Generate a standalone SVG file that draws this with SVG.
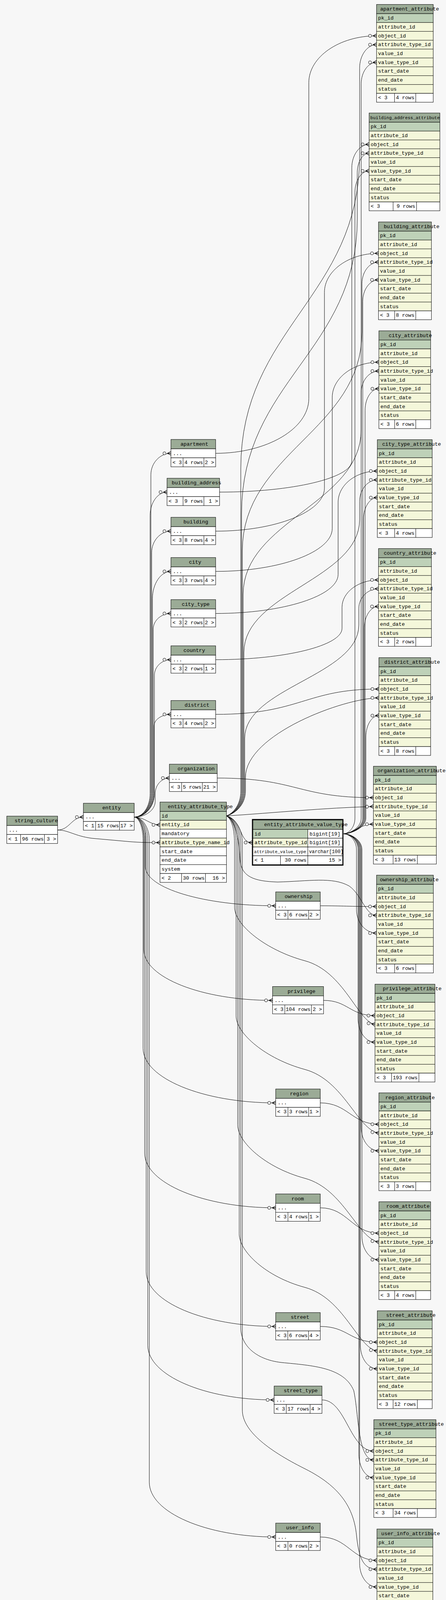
<svg xmlns="http://www.w3.org/2000/svg" width="1141" height="4217" viewBox="0 0 1141 4217">
<style>
text{font-family:"Liberation Mono","DejaVu Sans Mono",monospace;font-size:13.2px;fill:#000}
.ra{text-anchor:end}
.hd{fill:#9bab96;stroke:#000;stroke-width:1}
.pk{fill:#bed1b8;stroke:#000;stroke-width:1}
.ix{fill:#f4f7da;stroke:#000;stroke-width:1}
.wh{fill:#fff;stroke:#000;stroke-width:1}
.sep{fill:none;stroke:#000;stroke-width:1}
#connectors path{fill:none;stroke:#000;stroke-width:1;marker-end:url(#crow)}
</style>
<defs>
<marker id="crow" viewBox="0 0 22 12" markerWidth="22" markerHeight="12" refX="21" refY="6" orient="auto" markerUnits="userSpaceOnUse" overflow="visible">
<circle cx="4.4" cy="6" r="3.9" fill="#f7f7f7" stroke="#000" stroke-width="1"/>
<path d="M21,1.2 L12,6 L21,10.8 M12,6 H21" fill="none" stroke="#000" stroke-width="1.3"/>
</marker>
</defs>
<rect width="1141" height="4217" fill="#f7f7f7"/>
<g id="connectors">
<path d="M343.3,2091.7 C366.8,2091.7 386,2064.7 386,2031.7 L386,1215.5 C386,1185.3 409.1,1160.5 437.3,1160.5"/>
<path d="M343.3,2091.7 C365.7,2091.7 384,2064.7 384,2031.7 L384,1319.8 C384,1286.8 403.5,1259.8 427.3,1259.8"/>
<path d="M343.3,2091.7 C367.9,2091.7 388,2064.7 388,2031.7 L388,1414.8 C388,1384.6 410.2,1359.8 437.3,1359.8"/>
<path d="M343.3,2091.7 C369,2091.7 390,2064.7 390,2031.7 L390,1532.8 C390,1494.3 411.3,1462.8 437.3,1462.8"/>
<path d="M343.3,2091.7 C370.1,2091.7 392,2064.7 392,2031.7 L392,1610.5 C392,1588.5 412.4,1570.5 437.3,1570.5"/>
<path d="M343.3,2091.7 C371.7,2091.7 395,2064.7 395,2031.7 L395,1728.8 C395,1706.8 414,1688.8 437.3,1688.8"/>
<path d="M343.3,2091.7 C371.2,2091.7 394,2064.7 394,2031.7 L394,1858.8 C394,1842.3 413.5,1828.8 437.3,1828.8"/>
<path d="M343.3,2091.7 C372.8,2091.7 397,2073.7 397,2051.7 L397,2031.8 C397,2009.8 413.3,1991.8 433.3,1991.8"/>
<path d="M343.3,2091.7 C359.1,2091.7 372,2114.2 372,2141.7 L372,2218.8 C372,2273.8 522,2318.8 705.3,2318.8"/>
<path d="M343.3,2091.7 C356.9,2091.7 368,2116.5 368,2146.7 L368,2431 C368,2502.5 516.2,2561 697.3,2561"/>
<path d="M343.3,2091.7 C355.8,2091.7 366,2118.7 366,2151.7 L366,2683.4 C366,2760.4 518.7,2823.4 705.3,2823.4"/>
<path d="M343.3,2091.7 C358,2091.7 370,2118.7 370,2151.7 L370,2952 C370,3029 520.9,3092 705.3,3092"/>
<path d="M343.3,2091.7 C360.2,2091.7 374,2118.7 374,2151.7 L374,3255.7 C374,3332.7 523.1,3395.7 705.3,3395.7"/>
<path d="M343.3,2091.7 C362.4,2091.7 378,2118.7 378,2151.7 L378,3443.8 C378,3520.8 523.5,3583.8 701.3,3583.8"/>
<path d="M343.3,2091.7 C364.6,2091.7 382,2118.7 382,2151.7 L382,3794.7 C382,3871.7 527.5,3934.7 705.3,3934.7"/>
<path d="M343.3,2091.7 C372,2091.7 382,2111.7 409.3,2111.7"/>
<path d="M147.3,2124.8 C178,2124.8 183,2091.7 213.3,2091.7"/>
<path d="M147.3,2124.8 C175,2124.8 190,2140 235,2146 L330,2154.5 C360,2157 380,2157 409.3,2157"/>
<path d="M551.7,1160.5 C682.8,1160.5 790,1097.5 790,1020.5 L790,211.7 C790,145.7 868,91.7 963.3,91.7"/>
<path d="M561.7,1259.8 C747.8,1259.8 900,1223.8 900,1179.8 L900,429.6 C900,396.6 919.9,369.6 944.3,369.6"/>
<path d="M551.7,1359.8 C704.8,1359.8 830,1310.3 830,1249.8 L830,748.5 C830,693.5 892.2,648.5 968.3,648.5"/>
<path d="M551.7,1462.8 C715.8,1462.8 850,1413.3 850,1352.8 L850,1017.2 C850,967.7 903.7,927.2 969.3,927.2"/>
<path d="M551.7,1570.5 C724,1570.5 865,1525.5 865,1470.5 L865,1285.9 C865,1241.9 910.1,1205.9 965.3,1205.9"/>
<path d="M551.7,1688.8 C729.5,1688.8 875,1652.8 875,1608.8 L875,1554.6 C875,1516.1 917,1484.6 968.3,1484.6"/>
<path d="M551.7,1828.8 C770,1828.8 780,1763.9 969.3,1763.9"/>
<path d="M555.7,1991.8 C760,1991.8 760,2042 955.3,2042"/>
<path d="M819.3,2318.8 C880,2318.8 890,2320.7 963.3,2320.7"/>
<path d="M827.7,2561 C890,2561 895,2599.9 959.3,2599.9"/>
<path d="M819.3,2823.4 C890,2823.4 900,2878.1 969.3,2878.1"/>
<path d="M819.3,3092 C890,3092 900,3156.8 969.3,3156.8"/>
<path d="M819.3,3395.7 C890,3395.7 895,3436 965.3,3436"/>
<path d="M823.7,3583.8 C885,3583.8 895,3714.7 956.3,3714.7"/>
<path d="M819.3,3934.7 C890,3934.7 900,3994.6 964.3,3994.6"/>
<path d="M579.3,2088.8 C597,2082 616,2060 616,2025 L616,1200 C616,840 920,760 920,400 L920,174.4 C920,141.4 939.5,114.4 963.3,114.4"/>
<path d="M579.3,2088.8 C598,2082 618,2060 618,2025 L618,1315 C618,975 914,900 914,560 L914,442.3 C914,414.8 927.6,392.3 944.3,392.3"/>
<path d="M579.3,2088.8 C599,2082 620,2060 620,2025 L620,1410 C620,1158 926,1102 926,850 L926,726.2 C926,696 945,671.2 968.3,671.2"/>
<path d="M579.3,2088.8 C600,2082 622,2060 622,2025 L622,1522 C622,1332 924,1290 924,1100 L924,1004.9 C924,974.7 944.4,949.9 969.3,949.9"/>
<path d="M579.3,2088.8 C601,2082 624,2060 624,2025 L624,1670 C624,1517 920,1483 920,1330 L920,1283.6 C920,1253.4 940.4,1228.6 965.3,1228.6"/>
<path d="M579.3,2088.8 C602,2082 626,2060 626,2025 L626,1890 C626,1760 918,1730 918,1600 L918,1557.3 C918,1529.8 940.6,1507.3 968.3,1507.3"/>
<path d="M579.3,2088.8 C603,2082 628,2060 628,2025 L628,1990 C628,1880 880,1786.6 969.3,1786.6"/>
<path d="M579.3,2088.8 C700,2081 830,2068 955.3,2064.7"/>
<path d="M579.3,2088.8 C602,2096 612,2150 614,2200 C617,2245 650,2256 710,2258 C790,2256 850,2244 893,2268 C925,2290 935,2343.4 963.3,2343.4"/>
<path d="M579.3,2088.8 C592,2096 600,2120 600,2160 L600,2322.6 C600,2367.6 680,2432.6 780,2459.6 C880,2486.6 915,2614.6 959.3,2622.6"/>
<path d="M579.3,2088.8 C594,2096 604,2120 604,2160 L604,2600.8 C604,2645.8 680,2710.8 780,2737.8 C880,2764.8 915,2892.8 969.3,2900.8"/>
<path d="M579.3,2088.8 C596,2096 608,2120 608,2160 L608,2879.5 C608,2924.5 680,2989.5 780,3016.5 C880,3043.5 915,3171.5 969.3,3179.5"/>
<path d="M579.3,2088.8 C598,2096 612,2120 612,2160 L612,3158.7 C612,3203.7 680,3268.7 780,3295.7 C880,3322.7 915,3450.7 965.3,3458.7"/>
<path d="M579.3,2088.8 C600,2096 616,2120 616,2160 L616,3400 C616,3440 650,3480 720,3488 C800,3496 880,3500 905,3560 C918,3620 915,3737.4 956.3,3737.4"/>
<path d="M579.3,2088.8 C602,2096 620,2120 620,2160 L620,3610 C620,3660 680,3710 780,3760 C870,3805 905,3860 912,3930 C918,3990 930,4017.3 964.3,4017.3"/>
<path d="M579.3,2088.8 C608,2095 614,2130 624,2145 C630,2154 636,2157 645,2157"/>
<path d="M878.6,2134.5 C895,2134.5 924,2118 924,2095 L924,214.7 C924,184.5 941.7,159.7 963.3,159.7"/>
<path d="M878.6,2134.5 C892,2134.5 908,2118 908,2095 L908,492.6 C908,462.4 924.3,437.6 944.3,437.6"/>
<path d="M878.6,2134.5 C896,2134.5 928,2118 928,2095 L928,771.5 C928,741.3 946.1,716.5 968.3,716.5"/>
<path d="M878.6,2134.5 C898,2134.5 934,2118 934,2095 L934,1050.2 C934,1020 949.9,995.2 969.3,995.2"/>
<path d="M878.6,2134.5 C897,2134.5 930,2118 930,2095 L930,1328.9 C930,1298.7 945.9,1273.9 965.3,1273.9"/>
<path d="M878.6,2134.5 C898,2134.5 932,2118 932,2095 L932,1607.6 C932,1577.4 948.3,1552.6 968.3,1552.6"/>
<path d="M878.6,2134.5 C900,2134.5 936,2118 936,2095 L936,1886.9 C936,1856.7 951,1831.9 969.3,1831.9"/>
<path d="M878.6,2134.5 C905,2134.5 918,2110 955.3,2110"/>
<path d="M878.6,2134.5 C893,2134.5 912,2150 912,2175 L912,2328.7 C912,2361.7 935.1,2388.7 963.3,2388.7"/>
<path d="M878.6,2134.5 C895,2134.5 916,2150 916,2175 L916,2607.9 C916,2640.9 935.5,2667.9 959.3,2667.9"/>
<path d="M878.6,2134.5 C897,2134.5 924,2150 924,2175 L924,2886.1 C924,2919.1 944.4,2946.1 969.3,2946.1"/>
<path d="M878.6,2134.5 C898,2134.5 926,2150 926,2175 L926,3164.8 C926,3197.8 945.5,3224.8 969.3,3224.8"/>
<path d="M878.6,2134.5 C896,2134.5 922,2150 922,2175 L922,3444 C922,3477 941.5,3504 965.3,3504"/>
<path d="M878.6,2134.5 C895,2134.5 918,2150 918,2175 L918,3722.7 C918,3755.7 935.2,3782.7 956.3,3782.7"/>
<path d="M878.6,2134.5 C896,2134.5 920,2150 920,2175 L920,4002.6 C920,4035.6 939.9,4062.6 964.3,4062.6"/>
</g>

<g id="string_culture" transform="translate(17.3,2089.3)">
<rect class="hd" width="130" height="24"/><rect class="wh" y="24" width="130" height="23"/><rect class="wh" y="47" width="130" height="23"/>
<path class="sep" d="M35.4,47V70M96.4,47V70"/>
<text x="20" y="16">string_culture</text><text x="5" y="39.5">...</text>
<text x="4" y="62.5">&lt; 1</text><text class="ra" x="94.4" y="62.5">96 rows</text><text class="ra" x="126" y="62.5">3 &gt;</text>
</g>
<g id="entity" transform="translate(213.3,2056.3)">
<rect class="hd" width="130" height="24"/><rect class="wh" y="24" width="130" height="22.7"/><rect class="wh" y="46.7" width="130" height="22.3"/>
<path class="sep" d="M31.4,46.7V69M92.4,46.7V69"/>
<text x="48.4" y="16">entity</text><text x="5" y="39">...</text>
<text x="4" y="61.5">&lt; 1</text><text class="ra" x="90.9" y="61.5">15 rows</text><text class="ra" x="126" y="61.5">17 &gt;</text>
</g>
<g id="entity_attribute_type" transform="translate(409.3,2053.3)">
<rect class="hd" width="170" height="24"/>
<rect class="pk" y="24" width="170" height="22.7"/>
<rect class="ix" y="46.7" width="170" height="22.7"/>
<rect class="wh" y="69.4" width="170" height="22.7"/>
<rect class="ix" y="92.1" width="170" height="22.7"/>
<rect class="wh" y="114.8" width="170" height="22.7"/>
<rect class="wh" y="137.5" width="170" height="22.7"/>
<rect class="wh" y="160.2" width="170" height="22.7"/>
<rect class="wh" y="182.9" width="170" height="22.7"/>
<path class="sep" d="M55.3,182.9V205.6M116.4,182.9V205.6"/>
<text x="20" y="16">entity_attribute_type</text>
<text x="4" y="39.5">id</text><text x="4" y="62.2">entity_id</text><text x="4" y="84.9">mandatory</text>
<text x="4" y="107.6">attribute_type_name_id</text><text x="4" y="130.3">start_date</text>
<text x="4" y="153">end_date</text><text x="4" y="175.7">system</text>
<text x="4" y="198.4">&lt; 2</text><text class="ra" x="114" y="198.4">30 rows</text><text class="ra" x="166" y="198.4">16 &gt;</text>
</g>
<g id="entity_attribute_value_type">
<g transform="translate(647,2099.3)">
<rect class="hd" width="229.4" height="24"/>
<rect class="pk" y="24" width="140.5" height="22.5"/><rect class="wh" x="140.5" y="24" width="88.9" height="22.5"/>
<rect class="ix" y="46.5" width="140.5" height="22.5"/><rect class="wh" x="140.5" y="46.5" width="88.9" height="22.5"/>
<rect class="wh" y="69" width="229.4" height="22.5"/>
<rect class="wh" y="91.5" width="229.4" height="22.5"/>
<path class="sep" d="M140.5,69V91.5M70.5,91.5V114M140.5,91.5V114"/>
<text x="28.7" y="16">entity_attribute_value_type</text>
<text x="4" y="39.5">id</text><text x="144.8" y="39.5">bigint[19]</text>
<text x="4" y="62">attribute_type_id</text><text x="144.8" y="62">bigint[19]</text>
<text x="3" y="84.5" style="font-size:11.1px">attribute_value_type</text><text x="143.5" y="84.5" style="font-size:12.2px">varchar[100]</text>
<text x="4" y="107">&lt; 1</text><text class="ra" x="137" y="107">30 rows</text><text class="ra" x="226" y="107">15 &gt;</text>
</g>
<rect x="645.8" y="2097.9" width="231.6" height="116.9" fill="none" stroke="#000" stroke-width="2.4"/>
</g>

<g id="apartment" transform="translate(437.3,1125)">
<rect class="hd" width="114.4" height="24"/><rect class="wh" y="24" width="114.4" height="23"/><rect class="wh" y="47" width="114.4" height="23"/>
<path class="sep" d="M31,47V70M84.4,47V70"/>
<text x="24.4" y="16">apartment</text><text x="5" y="39.5">...</text>
<text x="4" y="62.5">&lt; 3</text><text class="ra" x="81.9" y="62.5">4 rows</text><text class="ra" x="110.4" y="62.5">2 &gt;</text>
</g>
<g id="building_address" transform="translate(427.3,1224.3)">
<rect class="hd" width="134.4" height="24"/><rect class="wh" y="24" width="134.4" height="23"/><rect class="wh" y="47" width="134.4" height="23"/>
<path class="sep" d="M41,47V70M94.4,47V70"/>
<text x="12" y="16">building_address</text><text x="5" y="39.5">...</text>
<text x="4" y="62.5">&lt; 3</text><text class="ra" x="91.9" y="62.5">9 rows</text><text class="ra" x="130.4" y="62.5">1 &gt;</text>
</g>
<g id="building" transform="translate(437.3,1324.3)">
<rect class="hd" width="114.4" height="24"/><rect class="wh" y="24" width="114.4" height="23"/><rect class="wh" y="47" width="114.4" height="23"/>
<path class="sep" d="M31,47V70M84.4,47V70"/>
<text x="32" y="16">building</text><text x="5" y="39.5">...</text>
<text x="4" y="62.5">&lt; 3</text><text class="ra" x="81.9" y="62.5">8 rows</text><text class="ra" x="110.4" y="62.5">4 &gt;</text>
</g>
<g id="city" transform="translate(437.3,1427.3)">
<rect class="hd" width="114.4" height="24"/><rect class="wh" y="24" width="114.4" height="23"/><rect class="wh" y="47" width="114.4" height="23"/>
<path class="sep" d="M31,47V70M84.4,47V70"/>
<text x="46" y="16">city</text><text x="5" y="39.5">...</text>
<text x="4" y="62.5">&lt; 3</text><text class="ra" x="81.9" y="62.5">3 rows</text><text class="ra" x="110.4" y="62.5">4 &gt;</text>
</g>
<g id="city_type" transform="translate(437.3,1535)">
<rect class="hd" width="114.4" height="24"/><rect class="wh" y="24" width="114.4" height="23"/><rect class="wh" y="47" width="114.4" height="23"/>
<path class="sep" d="M31,47V70M84.4,47V70"/>
<text x="27.7" y="16">city_type</text><text x="5" y="39.5">...</text>
<text x="4" y="62.5">&lt; 3</text><text class="ra" x="81.9" y="62.5">2 rows</text><text class="ra" x="110.4" y="62.5">2 &gt;</text>
</g>
<g id="country" transform="translate(437.3,1653.3)">
<rect class="hd" width="114.4" height="24"/><rect class="wh" y="24" width="114.4" height="23"/><rect class="wh" y="47" width="114.4" height="23"/>
<path class="sep" d="M31,47V70M84.4,47V70"/>
<text x="32" y="16">country</text><text x="5" y="39.5">...</text>
<text x="4" y="62.5">&lt; 3</text><text class="ra" x="81.9" y="62.5">2 rows</text><text class="ra" x="110.4" y="62.5">1 &gt;</text>
</g>
<g id="district" transform="translate(437.3,1793.3)">
<rect class="hd" width="114.4" height="24"/><rect class="wh" y="24" width="114.4" height="23"/><rect class="wh" y="47" width="114.4" height="23"/>
<path class="sep" d="M31,47V70M84.4,47V70"/>
<text x="35" y="16">district</text><text x="5" y="39.5">...</text>
<text x="4" y="62.5">&lt; 3</text><text class="ra" x="81.9" y="62.5">4 rows</text><text class="ra" x="110.4" y="62.5">2 &gt;</text>
</g>
<g id="organization" transform="translate(433.3,1956.3)">
<rect class="hd" width="122.4" height="24"/><rect class="wh" y="24" width="122.4" height="23"/><rect class="wh" y="47" width="122.4" height="23"/>
<path class="sep" d="M31.4,47V70M84.4,47V70"/>
<text x="21" y="16">organization</text><text x="5" y="39.5">...</text>
<text x="4" y="62.5">&lt; 3</text><text class="ra" x="81.9" y="62.5">5 rows</text><text class="ra" x="118.4" y="62.5">21 &gt;</text>
</g>
<g id="ownership" transform="translate(705.3,2283.3)">
<rect class="hd" width="114" height="24"/><rect class="wh" y="24" width="114" height="23"/><rect class="wh" y="47" width="114" height="23"/>
<path class="sep" d="M31.4,47V70M84.4,47V70"/>
<text x="23" y="16">ownership</text><text x="5" y="39.5">...</text>
<text x="4" y="62.5">&lt; 3</text><text class="ra" x="81.9" y="62.5">6 rows</text><text class="ra" x="110" y="62.5">2 &gt;</text>
</g>
<g id="privilege" transform="translate(697.3,2525.5)">
<rect class="hd" width="130.4" height="24"/><rect class="wh" y="24" width="130.4" height="23"/><rect class="wh" y="47" width="130.4" height="23"/>
<path class="sep" d="M31.4,47V70M99.4,47V70"/>
<text x="38.4" y="16">privilege</text><text x="5" y="39.5">...</text>
<text x="4" y="62.5">&lt; 3</text><text class="ra" x="96.9" y="62.5">104 rows</text><text class="ra" x="126.4" y="62.5">2 &gt;</text>
</g>
<g id="region" transform="translate(705.3,2787.9)">
<rect class="hd" width="114" height="24"/><rect class="wh" y="24" width="114" height="23"/><rect class="wh" y="47" width="114" height="23"/>
<path class="sep" d="M31.4,47V70M84.4,47V70"/>
<text x="36.4" y="16">region</text><text x="5" y="39.5">...</text>
<text x="4" y="62.5">&lt; 3</text><text class="ra" x="81.9" y="62.5">3 rows</text><text class="ra" x="110" y="62.5">1 &gt;</text>
</g>
<g id="room" transform="translate(705.3,3056.5)">
<rect class="hd" width="114" height="24"/><rect class="wh" y="24" width="114" height="23"/><rect class="wh" y="47" width="114" height="23"/>
<path class="sep" d="M31.4,47V70M84.4,47V70"/>
<text x="40.4" y="16">room</text><text x="5" y="39.5">...</text>
<text x="4" y="62.5">&lt; 3</text><text class="ra" x="81.9" y="62.5">4 rows</text><text class="ra" x="110" y="62.5">1 &gt;</text>
</g>
<g id="street" transform="translate(705.3,3360.2)">
<rect class="hd" width="114" height="24"/><rect class="wh" y="24" width="114" height="23"/><rect class="wh" y="47" width="114" height="23"/>
<path class="sep" d="M31,47V70M84,47V70"/>
<text x="38.4" y="16">street</text><text x="5" y="39.5">...</text>
<text x="4" y="62.5">&lt; 3</text><text class="ra" x="81.5" y="62.5">6 rows</text><text class="ra" x="110" y="62.5">4 &gt;</text>
</g>
<g id="street_type" transform="translate(701.3,3548.3)">
<rect class="hd" width="122.4" height="24"/><rect class="wh" y="24" width="122.4" height="23"/><rect class="wh" y="47" width="122.4" height="23"/>
<path class="sep" d="M31,47V70M92,47V70"/>
<text x="24.4" y="16">street_type</text><text x="5" y="39.5">...</text>
<text x="4" y="62.5">&lt; 3</text><text class="ra" x="89.5" y="62.5">17 rows</text><text class="ra" x="118.4" y="62.5">4 &gt;</text>
</g>
<g id="user_info" transform="translate(705.3,3899.2)">
<rect class="hd" width="114" height="24"/><rect class="wh" y="24" width="114" height="23"/><rect class="wh" y="47" width="114" height="23"/>
<path class="sep" d="M31.4,47V70M84.4,47V70"/>
<text x="26.4" y="16">user_info</text><text x="5" y="39.5">...</text>
<text x="4" y="62.5">&lt; 3</text><text class="ra" x="81.9" y="62.5">0 rows</text><text class="ra" x="110" y="62.5">2 &gt;</text>
</g>

<g id="apartment_attribute" transform="translate(963.3,11.4)">
<rect class="hd" width="145" height="23.6"/><rect class="pk" y="23.6" width="145" height="22.67"/><rect class="ix" y="46.27" width="145" height="181.36"/><rect class="wh" y="227.63" width="145" height="22.67"/>
<path class="sep" d="M0,68.94H145M0,91.61H145M0,114.28H145M0,136.95H145M0,159.62H145M0,182.29H145M0,204.96H145M46,227.63V250.3M100.4,227.63V250.3"/>
<text x="9.4" y="15.8">apartment_attribute</text>
<text x="4" y="39.1">pk_id</text><text x="4" y="61.8">attribute_id</text><text x="4" y="84.4">object_id</text><text x="4" y="107.1">attribute_type_id</text><text x="4" y="129.8">value_id</text><text x="4" y="152.4">value_type_id</text><text x="4" y="175.1">start_date</text><text x="4" y="197.8">end_date</text><text x="4" y="220.4">status</text>
<text x="4" y="243.1">&lt; 3</text><text class="ra" x="96.9" y="243.1">4 rows</text>
</g>
<g id="building_address_attribute" transform="translate(944.3,289.3)">
<rect class="hd" width="181" height="23.6"/><rect class="pk" y="23.6" width="181" height="22.67"/><rect class="ix" y="46.27" width="181" height="181.36"/><rect class="wh" y="227.63" width="181" height="22.67"/>
<path class="sep" d="M0,68.94H181M0,91.61H181M0,114.28H181M0,136.95H181M0,159.62H181M0,182.29H181M0,204.96H181M61.4,227.63V250.3M121.4,227.63V250.3"/>
<text x="3" y="15.8" style="font-size:11.4px">building_address_attribute</text>
<text x="4" y="39.1">pk_id</text><text x="4" y="61.8">attribute_id</text><text x="4" y="84.4">object_id</text><text x="4" y="107.1">attribute_type_id</text><text x="4" y="129.8">value_id</text><text x="4" y="152.4">value_type_id</text><text x="4" y="175.1">start_date</text><text x="4" y="197.8">end_date</text><text x="4" y="220.4">status</text>
<text x="4" y="243.1">&lt; 3</text><text class="ra" x="117.9" y="243.1">9 rows</text>
</g>
<g id="building_attribute" transform="translate(968.3,568.2)">
<rect class="hd" width="135.4" height="23.6"/><rect class="pk" y="23.6" width="135.4" height="22.67"/><rect class="ix" y="46.27" width="135.4" height="181.36"/><rect class="wh" y="227.63" width="135.4" height="22.67"/>
<path class="sep" d="M0,68.94H135.4M0,91.61H135.4M0,114.28H135.4M0,136.95H135.4M0,159.62H135.4M0,182.29H135.4M0,204.96H135.4M41.4,227.63V250.3M95.4,227.63V250.3"/>
<text x="13.4" y="15.8">building_attribute</text>
<text x="4" y="39.1">pk_id</text><text x="4" y="61.8">attribute_id</text><text x="4" y="84.4">object_id</text><text x="4" y="107.1">attribute_type_id</text><text x="4" y="129.8">value_id</text><text x="4" y="152.4">value_type_id</text><text x="4" y="175.1">start_date</text><text x="4" y="197.8">end_date</text><text x="4" y="220.4">status</text>
<text x="4" y="243.1">&lt; 3</text><text class="ra" x="91.9" y="243.1">8 rows</text>
</g>
<g id="city_attribute" transform="translate(969.3,846.9)">
<rect class="hd" width="132.4" height="23.6"/><rect class="pk" y="23.6" width="132.4" height="22.67"/><rect class="ix" y="46.27" width="132.4" height="181.36"/><rect class="wh" y="227.63" width="132.4" height="22.67"/>
<path class="sep" d="M0,68.94H132.4M0,91.61H132.4M0,114.28H132.4M0,136.95H132.4M0,159.62H132.4M0,182.29H132.4M0,204.96H132.4M40.4,227.63V250.3M94.4,227.63V250.3"/>
<text x="25" y="15.8">city_attribute</text>
<text x="4" y="39.1">pk_id</text><text x="4" y="61.8">attribute_id</text><text x="4" y="84.4">object_id</text><text x="4" y="107.1">attribute_type_id</text><text x="4" y="129.8">value_id</text><text x="4" y="152.4">value_type_id</text><text x="4" y="175.1">start_date</text><text x="4" y="197.8">end_date</text><text x="4" y="220.4">status</text>
<text x="4" y="243.1">&lt; 3</text><text class="ra" x="90.9" y="243.1">6 rows</text>
</g>
<g id="city_type_attribute" transform="translate(965.3,1125.6)">
<rect class="hd" width="140.4" height="23.6"/><rect class="pk" y="23.6" width="140.4" height="22.67"/><rect class="ix" y="46.27" width="140.4" height="181.36"/><rect class="wh" y="227.63" width="140.4" height="22.67"/>
<path class="sep" d="M0,68.94H140.4M0,91.61H140.4M0,114.28H140.4M0,136.95H140.4M0,159.62H140.4M0,182.29H140.4M0,204.96H140.4M44.4,227.63V250.3M98.4,227.63V250.3"/>
<text x="12.4" y="15.8">city_type_attribute</text>
<text x="4" y="39.1">pk_id</text><text x="4" y="61.8">attribute_id</text><text x="4" y="84.4">object_id</text><text x="4" y="107.1">attribute_type_id</text><text x="4" y="129.8">value_id</text><text x="4" y="152.4">value_type_id</text><text x="4" y="175.1">start_date</text><text x="4" y="197.8">end_date</text><text x="4" y="220.4">status</text>
<text x="4" y="243.1">&lt; 3</text><text class="ra" x="94.9" y="243.1">4 rows</text>
</g>
<g id="country_attribute" transform="translate(968.3,1404.3)">
<rect class="hd" width="135.4" height="23.6"/><rect class="pk" y="23.6" width="135.4" height="22.67"/><rect class="ix" y="46.27" width="135.4" height="181.36"/><rect class="wh" y="227.63" width="135.4" height="22.67"/>
<path class="sep" d="M0,68.94H135.4M0,91.61H135.4M0,114.28H135.4M0,136.95H135.4M0,159.62H135.4M0,182.29H135.4M0,204.96H135.4M41.4,227.63V250.3M95.4,227.63V250.3"/>
<text x="13.4" y="15.8">country_attribute</text>
<text x="4" y="39.1">pk_id</text><text x="4" y="61.8">attribute_id</text><text x="4" y="84.4">object_id</text><text x="4" y="107.1">attribute_type_id</text><text x="4" y="129.8">value_id</text><text x="4" y="152.4">value_type_id</text><text x="4" y="175.1">start_date</text><text x="4" y="197.8">end_date</text><text x="4" y="220.4">status</text>
<text x="4" y="243.1">&lt; 3</text><text class="ra" x="91.9" y="243.1">2 rows</text>
</g>
<g id="district_attribute" transform="translate(969.3,1683.6)">
<rect class="hd" width="132.4" height="23.6"/><rect class="pk" y="23.6" width="132.4" height="22.67"/><rect class="ix" y="46.27" width="132.4" height="181.36"/><rect class="wh" y="227.63" width="132.4" height="22.67"/>
<path class="sep" d="M0,68.94H132.4M0,91.61H132.4M0,114.28H132.4M0,136.95H132.4M0,159.62H132.4M0,182.29H132.4M0,204.96H132.4M40.4,227.63V250.3M94.4,227.63V250.3"/>
<text x="14" y="15.8">district_attribute</text>
<text x="4" y="39.1">pk_id</text><text x="4" y="61.8">attribute_id</text><text x="4" y="84.4">object_id</text><text x="4" y="107.1">attribute_type_id</text><text x="4" y="129.8">value_id</text><text x="4" y="152.4">value_type_id</text><text x="4" y="175.1">start_date</text><text x="4" y="197.8">end_date</text><text x="4" y="220.4">status</text>
<text x="4" y="243.1">&lt; 3</text><text class="ra" x="90.9" y="243.1">8 rows</text>
</g>
<g id="organization_attribute" transform="translate(955.3,1961.7)">
<rect class="hd" width="161" height="23.6"/><rect class="pk" y="23.6" width="161" height="22.67"/><rect class="ix" y="46.27" width="161" height="181.36"/><rect class="wh" y="227.63" width="161" height="22.67"/>
<path class="sep" d="M0,68.94H161M0,91.61H161M0,114.28H161M0,136.95H161M0,159.62H161M0,182.29H161M0,204.96H161M50.4,227.63V250.3M112.4,227.63V250.3"/>
<text x="10.4" y="15.8">organization_attribute</text>
<text x="4" y="39.1">pk_id</text><text x="4" y="61.8">attribute_id</text><text x="4" y="84.4">object_id</text><text x="4" y="107.1">attribute_type_id</text><text x="4" y="129.8">value_id</text><text x="4" y="152.4">value_type_id</text><text x="4" y="175.1">start_date</text><text x="4" y="197.8">end_date</text><text x="4" y="220.4">status</text>
<text x="4" y="243.1">&lt; 3</text><text class="ra" x="108.9" y="243.1">13 rows</text>
</g>
<g id="ownership_attribute" transform="translate(963.3,2240.4)">
<rect class="hd" width="145.4" height="23.6"/><rect class="pk" y="23.6" width="145.4" height="22.67"/><rect class="ix" y="46.27" width="145.4" height="181.36"/><rect class="wh" y="227.63" width="145.4" height="22.67"/>
<path class="sep" d="M0,68.94H145.4M0,91.61H145.4M0,114.28H145.4M0,136.95H145.4M0,159.62H145.4M0,182.29H145.4M0,204.96H145.4M46.4,227.63V250.3M100.4,227.63V250.3"/>
<text x="8.4" y="15.8">ownership_attribute</text>
<text x="4" y="39.1">pk_id</text><text x="4" y="61.8">attribute_id</text><text x="4" y="84.4">object_id</text><text x="4" y="107.1">attribute_type_id</text><text x="4" y="129.8">value_id</text><text x="4" y="152.4">value_type_id</text><text x="4" y="175.1">start_date</text><text x="4" y="197.8">end_date</text><text x="4" y="220.4">status</text>
<text x="4" y="243.1">&lt; 3</text><text class="ra" x="96.9" y="243.1">6 rows</text>
</g>
<g id="privilege_attribute" transform="translate(959.3,2519.6)">
<rect class="hd" width="153.4" height="23.6"/><rect class="pk" y="23.6" width="153.4" height="22.67"/><rect class="ix" y="46.27" width="153.4" height="181.36"/><rect class="wh" y="227.63" width="153.4" height="22.67"/>
<path class="sep" d="M0,68.94H153.4M0,91.61H153.4M0,114.28H153.4M0,136.95H153.4M0,159.62H153.4M0,182.29H153.4M0,204.96H153.4M42.4,227.63V250.3M112.4,227.63V250.3"/>
<text x="20" y="15.8">privilege_attribute</text>
<text x="4" y="39.1">pk_id</text><text x="4" y="61.8">attribute_id</text><text x="4" y="84.4">object_id</text><text x="4" y="107.1">attribute_type_id</text><text x="4" y="129.8">value_id</text><text x="4" y="152.4">value_type_id</text><text x="4" y="175.1">start_date</text><text x="4" y="197.8">end_date</text><text x="4" y="220.4">status</text>
<text x="4" y="243.1">&lt; 3</text><text class="ra" x="108.9" y="243.1">193 rows</text>
</g>
<g id="region_attribute" transform="translate(969.3,2797.8)">
<rect class="hd" width="132.4" height="23.6"/><rect class="pk" y="23.6" width="132.4" height="22.67"/><rect class="ix" y="46.27" width="132.4" height="181.36"/><rect class="wh" y="227.63" width="132.4" height="22.67"/>
<path class="sep" d="M0,68.94H132.4M0,91.61H132.4M0,114.28H132.4M0,136.95H132.4M0,159.62H132.4M0,182.29H132.4M0,204.96H132.4M40.4,227.63V250.3M94.4,227.63V250.3"/>
<text x="16.4" y="15.8">region_attribute</text>
<text x="4" y="39.1">pk_id</text><text x="4" y="61.8">attribute_id</text><text x="4" y="84.4">object_id</text><text x="4" y="107.1">attribute_type_id</text><text x="4" y="129.8">value_id</text><text x="4" y="152.4">value_type_id</text><text x="4" y="175.1">start_date</text><text x="4" y="197.8">end_date</text><text x="4" y="220.4">status</text>
<text x="4" y="243.1">&lt; 3</text><text class="ra" x="90.9" y="243.1">3 rows</text>
</g>
<g id="room_attribute" transform="translate(969.3,3076.5)">
<rect class="hd" width="132.4" height="23.6"/><rect class="pk" y="23.6" width="132.4" height="22.67"/><rect class="ix" y="46.27" width="132.4" height="181.36"/><rect class="wh" y="227.63" width="132.4" height="22.67"/>
<path class="sep" d="M0,68.94H132.4M0,91.61H132.4M0,114.28H132.4M0,136.95H132.4M0,159.62H132.4M0,182.29H132.4M0,204.96H132.4M40.4,227.63V250.3M94.4,227.63V250.3"/>
<text x="19" y="15.8">room_attribute</text>
<text x="4" y="39.1">pk_id</text><text x="4" y="61.8">attribute_id</text><text x="4" y="84.4">object_id</text><text x="4" y="107.1">attribute_type_id</text><text x="4" y="129.8">value_id</text><text x="4" y="152.4">value_type_id</text><text x="4" y="175.1">start_date</text><text x="4" y="197.8">end_date</text><text x="4" y="220.4">status</text>
<text x="4" y="243.1">&lt; 3</text><text class="ra" x="90.9" y="243.1">4 rows</text>
</g>
<g id="street_attribute" transform="translate(965.3,3355.7)">
<rect class="hd" width="140.4" height="23.6"/><rect class="pk" y="23.6" width="140.4" height="22.67"/><rect class="ix" y="46.27" width="140.4" height="181.36"/><rect class="wh" y="227.63" width="140.4" height="22.67"/>
<path class="sep" d="M0,68.94H140.4M0,91.61H140.4M0,114.28H140.4M0,136.95H140.4M0,159.62H140.4M0,182.29H140.4M0,204.96H140.4M40.4,227.63V250.3M102.4,227.63V250.3"/>
<text x="22.4" y="15.8">street_attribute</text>
<text x="4" y="39.1">pk_id</text><text x="4" y="61.8">attribute_id</text><text x="4" y="84.4">object_id</text><text x="4" y="107.1">attribute_type_id</text><text x="4" y="129.8">value_id</text><text x="4" y="152.4">value_type_id</text><text x="4" y="175.1">start_date</text><text x="4" y="197.8">end_date</text><text x="4" y="220.4">status</text>
<text x="4" y="243.1">&lt; 3</text><text class="ra" x="98.9" y="243.1">12 rows</text>
</g>
<g id="street_type_attribute" transform="translate(956.3,3634.4)">
<rect class="hd" width="159" height="23.6"/><rect class="pk" y="23.6" width="159" height="22.67"/><rect class="ix" y="46.27" width="159" height="181.36"/><rect class="wh" y="227.63" width="159" height="22.67"/>
<path class="sep" d="M0,68.94H159M0,91.61H159M0,114.28H159M0,136.95H159M0,159.62H159M0,182.29H159M0,204.96H159M49.4,227.63V250.3M111.4,227.63V250.3"/>
<text x="13" y="15.8">street_type_attribute</text>
<text x="4" y="39.1">pk_id</text><text x="4" y="61.8">attribute_id</text><text x="4" y="84.4">object_id</text><text x="4" y="107.1">attribute_type_id</text><text x="4" y="129.8">value_id</text><text x="4" y="152.4">value_type_id</text><text x="4" y="175.1">start_date</text><text x="4" y="197.8">end_date</text><text x="4" y="220.4">status</text>
<text x="4" y="243.1">&lt; 3</text><text class="ra" x="107.9" y="243.1">34 rows</text>
</g>
<g id="user_info_attribute" transform="translate(964.3,3914.3)">
<rect class="hd" width="143" height="23.6"/><rect class="pk" y="23.6" width="143" height="22.67"/><rect class="ix" y="46.27" width="143" height="181.36"/><rect class="wh" y="227.63" width="143" height="22.67"/>
<path class="sep" d="M0,68.94H143M0,91.61H143M0,114.28H143M0,136.95H143M0,159.62H143M0,182.29H143M0,204.96H143M45.4,227.63V250.3M99.4,227.63V250.3"/>
<text x="11" y="15.8">user_info_attribute</text>
<text x="4" y="39.1">pk_id</text><text x="4" y="61.8">attribute_id</text><text x="4" y="84.4">object_id</text><text x="4" y="107.1">attribute_type_id</text><text x="4" y="129.8">value_id</text><text x="4" y="152.4">value_type_id</text><text x="4" y="175.1">start_date</text><text x="4" y="197.8">end_date</text><text x="4" y="220.4">status</text>
<text x="4" y="243.1">&lt; 3</text><text class="ra" x="95.9" y="243.1">0 rows</text>
</g>
<text x="16" y="4203.3">Generated by SchemaSpy</text>
</svg>
